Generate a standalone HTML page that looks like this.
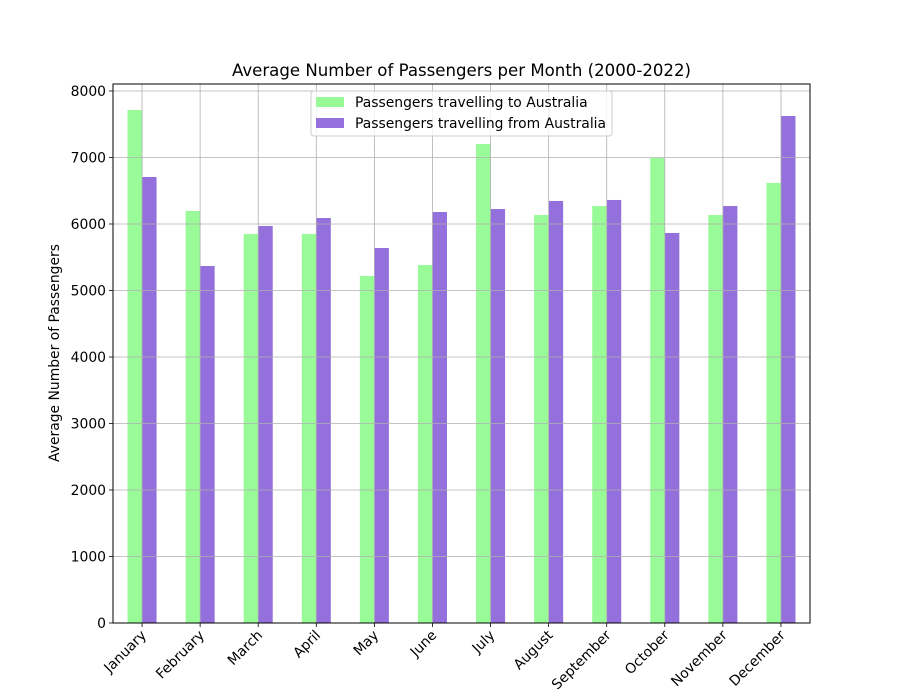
<!DOCTYPE html>
<html><head><meta charset="utf-8"><style>
html,body{margin:0;padding:0;background:#fff;overflow:hidden;width:900px;height:700px;}
svg{display:block;}
</style></head><body>
<svg id="chart" width="900" height="700" xmlns="http://www.w3.org/2000/svg" font-family="DejaVu Sans, Liberation Sans, sans-serif">
<rect width="900" height="700" fill="#fff"/>
<text x="461.5" y="76" text-anchor="middle" font-size="16.6">Average Number of Passengers per Month (2000-2022)</text>
<text transform="translate(59,353) rotate(-90)" text-anchor="middle" font-size="13.9">Average Number of Passengers</text>
<g id="bars"></g><g id="grid"></g><g id="axes"></g>
<g>
<rect x="311" y="91" width="301" height="45" rx="3" fill="#fff" fill-opacity="0.8" stroke="#ccc"/>
<rect x="316" y="97" width="28" height="10" fill="#98fb98"/>
<text x="355" y="107" font-size="13.9">Passengers travelling to Australia</text>
<rect x="316" y="118" width="28" height="10" fill="#9370db"/>
<text x="355" y="128" font-size="13.9">Passengers travelling from Australia</text>
</g>
</svg>
<script>
const categories=["January","February","March","April","May","June","July","August","September","October","November","December"];
const toAustralia=[7714,6195,5850,5850,5218,5383,7203,6135,6270,6992,6135,6617];
const fromAustralia=[6707,5368,5970,6090,5639,6180,6225,6346,6361,5865,6270,7624];
const yTicks=[0,1000,2000,3000,4000,5000,6000,7000,8000];
const NS="http://www.w3.org/2000/svg";
const L=113,R=810,T=84,B=623,YMAX=8105;
const y=v=>B-(v/YMAX)*(B-T);
const step=(R-L)/categories.length;
const xc=i=>L+step*(i+0.5);
function mk(t,a,p){const e=document.createElementNS(NS,t);for(const k in a)e.setAttribute(k,a[k]);p.appendChild(e);return e;}
const bars=document.getElementById('bars'),grid=document.getElementById('grid'),axes=document.getElementById('axes');
const bw=step*0.25;
categories.forEach((c,i)=>{
 const b1=mk('rect',{x:xc(i)-bw,y:y(toAustralia[i]),width:bw,height:B-y(toAustralia[i]),fill:'#98fb98'},bars);
 
 
 const b2=mk('rect',{x:xc(i),y:y(fromAustralia[i]),width:bw,height:B-y(fromAustralia[i]),fill:'#9370db'},bars);
 
 
 mk('line',{x1:xc(i),x2:xc(i),y1:T,y2:B,stroke:'#b0b0b0','stroke-width':0.8},grid);
 mk('line',{x1:xc(i),x2:xc(i),y1:B,y2:B+4,stroke:'#000','stroke-width':0.8},axes);
 const t=mk('text',{transform:`translate(${xc(i)+5},${B+13}) rotate(-45)`,'text-anchor':'end','font-size':13.9},axes);
 t.textContent=c;
 
 
});
yTicks.forEach(v=>{
 mk('line',{x1:L,x2:R,y1:y(v),y2:y(v),stroke:'#b0b0b0','stroke-width':0.8},grid);
 mk('line',{x1:L-4,x2:L,y1:y(v),y2:y(v),stroke:'#000','stroke-width':0.8},axes);
 const t=mk('text',{x:L-7,y:y(v)+5,'text-anchor':'end','font-size':13.9},axes);
 t.textContent=v;
 
 
});
const f=mk('rect',{x:L,y:T,width:R-L,height:B-T,fill:'none',stroke:'#000','stroke-width':1},axes);


</script>
</body></html>
